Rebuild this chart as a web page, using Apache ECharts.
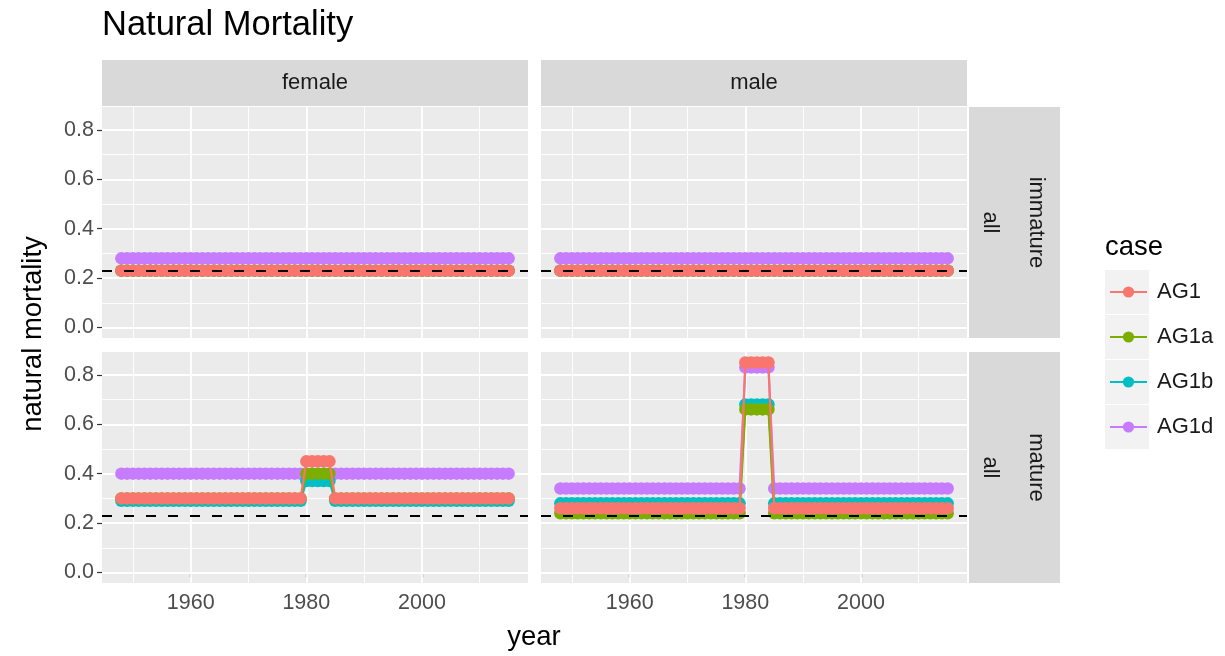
<!DOCTYPE html>
<html><head><meta charset="utf-8">
<script src="https://cdn.jsdelivr.net/npm/echarts@6/dist/echarts.min.js"></script>
<style>html,body{margin:0;padding:0;background:#fff}#c{width:1225px;height:656px}</style>
</head><body><div id="c"></div>
<script>
// ---------- data ----------
const years = [
1948,1949,1950,1951,1952,1953,1954,1955,1956,1957,
1958,1959,1960,1961,1962,1963,1964,1965,1966,1967,
1968,1969,1970,1971,1972,1973,1974,1975,1976,1977,
1978,1979,1980,1981,1982,1983,1984,1985,1986,1987,
1988,1989,1990,1991,1992,1993,1994,1995,1996,1997,
1998,1999,2000,2001,2002,2003,2004,2005,2006,2007,
2008,2009,2010,2011,2012,2013,2014,2015];
const caseNames = ['AG1','AG1a','AG1b','AG1d'];
const sexNames = ['female','male'];
const stageNames = ['immature','mature'];
const maturityNames = ['all','all'];
const xTicks = [1960,1980,2000];
const xMinor = [1950,1970,1990,2010];
const yTicks = [0,0.2,0.4,0.6,0.8];
const yMinor = [0.1,0.3,0.5,0.7];
const refValue = 0.23;

// female, immature
const fImm_AG1 = [
0.23,0.23,0.23,0.23,0.23,0.23,0.23,0.23,0.23,0.23,
0.23,0.23,0.23,0.23,0.23,0.23,0.23,0.23,0.23,0.23,
0.23,0.23,0.23,0.23,0.23,0.23,0.23,0.23,0.23,0.23,
0.23,0.23,0.23,0.23,0.23,0.23,0.23,0.23,0.23,0.23,
0.23,0.23,0.23,0.23,0.23,0.23,0.23,0.23,0.23,0.23,
0.23,0.23,0.23,0.23,0.23,0.23,0.23,0.23,0.23,0.23,
0.23,0.23,0.23,0.23,0.23,0.23,0.23,0.23];
const fImm_AG1a = [
0.23,0.23,0.23,0.23,0.23,0.23,0.23,0.23,0.23,0.23,
0.23,0.23,0.23,0.23,0.23,0.23,0.23,0.23,0.23,0.23,
0.23,0.23,0.23,0.23,0.23,0.23,0.23,0.23,0.23,0.23,
0.23,0.23,0.23,0.23,0.23,0.23,0.23,0.23,0.23,0.23,
0.23,0.23,0.23,0.23,0.23,0.23,0.23,0.23,0.23,0.23,
0.23,0.23,0.23,0.23,0.23,0.23,0.23,0.23,0.23,0.23,
0.23,0.23,0.23,0.23,0.23,0.23,0.23,0.23];
const fImm_AG1b = [
0.23,0.23,0.23,0.23,0.23,0.23,0.23,0.23,0.23,0.23,
0.23,0.23,0.23,0.23,0.23,0.23,0.23,0.23,0.23,0.23,
0.23,0.23,0.23,0.23,0.23,0.23,0.23,0.23,0.23,0.23,
0.23,0.23,0.23,0.23,0.23,0.23,0.23,0.23,0.23,0.23,
0.23,0.23,0.23,0.23,0.23,0.23,0.23,0.23,0.23,0.23,
0.23,0.23,0.23,0.23,0.23,0.23,0.23,0.23,0.23,0.23,
0.23,0.23,0.23,0.23,0.23,0.23,0.23,0.23];
const fImm_AG1d = [
0.28,0.28,0.28,0.28,0.28,0.28,0.28,0.28,0.28,0.28,
0.28,0.28,0.28,0.28,0.28,0.28,0.28,0.28,0.28,0.28,
0.28,0.28,0.28,0.28,0.28,0.28,0.28,0.28,0.28,0.28,
0.28,0.28,0.28,0.28,0.28,0.28,0.28,0.28,0.28,0.28,
0.28,0.28,0.28,0.28,0.28,0.28,0.28,0.28,0.28,0.28,
0.28,0.28,0.28,0.28,0.28,0.28,0.28,0.28,0.28,0.28,
0.28,0.28,0.28,0.28,0.28,0.28,0.28,0.28];
// male, immature
const mImm_AG1 = [
0.23,0.23,0.23,0.23,0.23,0.23,0.23,0.23,0.23,0.23,
0.23,0.23,0.23,0.23,0.23,0.23,0.23,0.23,0.23,0.23,
0.23,0.23,0.23,0.23,0.23,0.23,0.23,0.23,0.23,0.23,
0.23,0.23,0.23,0.23,0.23,0.23,0.23,0.23,0.23,0.23,
0.23,0.23,0.23,0.23,0.23,0.23,0.23,0.23,0.23,0.23,
0.23,0.23,0.23,0.23,0.23,0.23,0.23,0.23,0.23,0.23,
0.23,0.23,0.23,0.23,0.23,0.23,0.23,0.23];
const mImm_AG1a = [
0.23,0.23,0.23,0.23,0.23,0.23,0.23,0.23,0.23,0.23,
0.23,0.23,0.23,0.23,0.23,0.23,0.23,0.23,0.23,0.23,
0.23,0.23,0.23,0.23,0.23,0.23,0.23,0.23,0.23,0.23,
0.23,0.23,0.23,0.23,0.23,0.23,0.23,0.23,0.23,0.23,
0.23,0.23,0.23,0.23,0.23,0.23,0.23,0.23,0.23,0.23,
0.23,0.23,0.23,0.23,0.23,0.23,0.23,0.23,0.23,0.23,
0.23,0.23,0.23,0.23,0.23,0.23,0.23,0.23];
const mImm_AG1b = [
0.23,0.23,0.23,0.23,0.23,0.23,0.23,0.23,0.23,0.23,
0.23,0.23,0.23,0.23,0.23,0.23,0.23,0.23,0.23,0.23,
0.23,0.23,0.23,0.23,0.23,0.23,0.23,0.23,0.23,0.23,
0.23,0.23,0.23,0.23,0.23,0.23,0.23,0.23,0.23,0.23,
0.23,0.23,0.23,0.23,0.23,0.23,0.23,0.23,0.23,0.23,
0.23,0.23,0.23,0.23,0.23,0.23,0.23,0.23,0.23,0.23,
0.23,0.23,0.23,0.23,0.23,0.23,0.23,0.23];
const mImm_AG1d = [
0.28,0.28,0.28,0.28,0.28,0.28,0.28,0.28,0.28,0.28,
0.28,0.28,0.28,0.28,0.28,0.28,0.28,0.28,0.28,0.28,
0.28,0.28,0.28,0.28,0.28,0.28,0.28,0.28,0.28,0.28,
0.28,0.28,0.28,0.28,0.28,0.28,0.28,0.28,0.28,0.28,
0.28,0.28,0.28,0.28,0.28,0.28,0.28,0.28,0.28,0.28,
0.28,0.28,0.28,0.28,0.28,0.28,0.28,0.28,0.28,0.28,
0.28,0.28,0.28,0.28,0.28,0.28,0.28,0.28];
// female, mature
const fMat_AG1 = [
0.30,0.30,0.30,0.30,0.30,0.30,0.30,0.30,0.30,0.30,
0.30,0.30,0.30,0.30,0.30,0.30,0.30,0.30,0.30,0.30,
0.30,0.30,0.30,0.30,0.30,0.30,0.30,0.30,0.30,0.30,
0.30,0.30,0.45,0.45,0.45,0.45,0.45,0.30,0.30,0.30,
0.30,0.30,0.30,0.30,0.30,0.30,0.30,0.30,0.30,0.30,
0.30,0.30,0.30,0.30,0.30,0.30,0.30,0.30,0.30,0.30,
0.30,0.30,0.30,0.30,0.30,0.30,0.30,0.30];
const fMat_AG1a = [
0.30,0.30,0.30,0.30,0.30,0.30,0.30,0.30,0.30,0.30,
0.30,0.30,0.30,0.30,0.30,0.30,0.30,0.30,0.30,0.30,
0.30,0.30,0.30,0.30,0.30,0.30,0.30,0.30,0.30,0.30,
0.30,0.30,0.40,0.40,0.40,0.40,0.40,0.30,0.30,0.30,
0.30,0.30,0.30,0.30,0.30,0.30,0.30,0.30,0.30,0.30,
0.30,0.30,0.30,0.30,0.30,0.30,0.30,0.30,0.30,0.30,
0.30,0.30,0.30,0.30,0.30,0.30,0.30,0.30];
const fMat_AG1b = [
0.29,0.29,0.29,0.29,0.29,0.29,0.29,0.29,0.29,0.29,
0.29,0.29,0.29,0.29,0.29,0.29,0.29,0.29,0.29,0.29,
0.29,0.29,0.29,0.29,0.29,0.29,0.29,0.29,0.29,0.29,
0.29,0.29,0.37,0.37,0.37,0.37,0.37,0.29,0.29,0.29,
0.29,0.29,0.29,0.29,0.29,0.29,0.29,0.29,0.29,0.29,
0.29,0.29,0.29,0.29,0.29,0.29,0.29,0.29,0.29,0.29,
0.29,0.29,0.29,0.29,0.29,0.29,0.29,0.29];
const fMat_AG1d = [
0.40,0.40,0.40,0.40,0.40,0.40,0.40,0.40,0.40,0.40,
0.40,0.40,0.40,0.40,0.40,0.40,0.40,0.40,0.40,0.40,
0.40,0.40,0.40,0.40,0.40,0.40,0.40,0.40,0.40,0.40,
0.40,0.40,0.40,0.40,0.40,0.40,0.40,0.40,0.40,0.40,
0.40,0.40,0.40,0.40,0.40,0.40,0.40,0.40,0.40,0.40,
0.40,0.40,0.40,0.40,0.40,0.40,0.40,0.40,0.40,0.40,
0.40,0.40,0.40,0.40,0.40,0.40,0.40,0.40];
// male, mature
const mMat_AG1 = [
0.26,0.26,0.26,0.26,0.26,0.26,0.26,0.26,0.26,0.26,
0.26,0.26,0.26,0.26,0.26,0.26,0.26,0.26,0.26,0.26,
0.26,0.26,0.26,0.26,0.26,0.26,0.26,0.26,0.26,0.26,
0.26,0.26,0.85,0.85,0.85,0.85,0.85,0.26,0.26,0.26,
0.26,0.26,0.26,0.26,0.26,0.26,0.26,0.26,0.26,0.26,
0.26,0.26,0.26,0.26,0.26,0.26,0.26,0.26,0.26,0.26,
0.26,0.26,0.26,0.26,0.26,0.26,0.26,0.26];
const mMat_AG1a = [
0.24,0.24,0.24,0.24,0.24,0.24,0.24,0.24,0.24,0.24,
0.24,0.24,0.24,0.24,0.24,0.24,0.24,0.24,0.24,0.24,
0.24,0.24,0.24,0.24,0.24,0.24,0.24,0.24,0.24,0.24,
0.24,0.24,0.66,0.66,0.66,0.66,0.66,0.24,0.24,0.24,
0.24,0.24,0.24,0.24,0.24,0.24,0.24,0.24,0.24,0.24,
0.24,0.24,0.24,0.24,0.24,0.24,0.24,0.24,0.24,0.24,
0.24,0.24,0.24,0.24,0.24,0.24,0.24,0.24];
const mMat_AG1b = [
0.28,0.28,0.28,0.28,0.28,0.28,0.28,0.28,0.28,0.28,
0.28,0.28,0.28,0.28,0.28,0.28,0.28,0.28,0.28,0.28,
0.28,0.28,0.28,0.28,0.28,0.28,0.28,0.28,0.28,0.28,
0.28,0.28,0.68,0.68,0.68,0.68,0.68,0.28,0.28,0.28,
0.28,0.28,0.28,0.28,0.28,0.28,0.28,0.28,0.28,0.28,
0.28,0.28,0.28,0.28,0.28,0.28,0.28,0.28,0.28,0.28,
0.28,0.28,0.28,0.28,0.28,0.28,0.28,0.28];
const mMat_AG1d = [
0.34,0.34,0.34,0.34,0.34,0.34,0.34,0.34,0.34,0.34,
0.34,0.34,0.34,0.34,0.34,0.34,0.34,0.34,0.34,0.34,
0.34,0.34,0.34,0.34,0.34,0.34,0.34,0.34,0.34,0.34,
0.34,0.34,0.83,0.83,0.83,0.83,0.83,0.34,0.34,0.34,
0.34,0.34,0.34,0.34,0.34,0.34,0.34,0.34,0.34,0.34,
0.34,0.34,0.34,0.34,0.34,0.34,0.34,0.34,0.34,0.34,
0.34,0.34,0.34,0.34,0.34,0.34,0.34,0.34];

// ---------- chart ----------
const FONT = '"Liberation Sans", Arial, Helvetica, sans-serif';
const colors = {AG1:'#F8766D', AG1a:'#7CAE00', AG1b:'#00BFC4', AG1d:'#C77CFF'};
const zOf = {AG1d:2, AG1b:3, AG1a:4, AG1:5};
const drawOrder = ['AG1d','AG1b','AG1a','AG1'];
const panelData = [
  {AG1:fImm_AG1, AG1a:fImm_AG1a, AG1b:fImm_AG1b, AG1d:fImm_AG1d},
  {AG1:mImm_AG1, AG1a:mImm_AG1a, AG1b:mImm_AG1b, AG1d:mImm_AG1d},
  {AG1:fMat_AG1, AG1a:fMat_AG1a, AG1b:fMat_AG1b, AG1d:fMat_AG1d},
  {AG1:mMat_AG1, AG1a:mMat_AG1a, AG1b:mMat_AG1b, AG1d:mMat_AG1d}
];
const PW = 426, PH = 231;
const colX = [102, 541];
const rowY = [107, 352];
const XMIN = 1944.65, XMAX = 2018.35, YMIN = -0.0425, YMAX = 0.8925;

const grids = [], xAxes = [], yAxes = [], series = [];
for (let i = 0; i < 4; i++) {
  const col = i % 2, row = Math.floor(i / 2);
  grids.push({left: colX[col], top: rowY[row], width: PW, height: PH, show: true,
    backgroundColor: '#EBEBEB', borderWidth: 0, containLabel: false});
  xAxes.push({type: 'value', gridIndex: i, min: XMIN, max: XMAX,
    axisLine: {show: false}, splitLine: {show: false},
    axisTick: {show: row === 1, customValues: xTicks, length: 5, lineStyle: {color: '#333333', width: 1.2}},
    axisLabel: {show: row === 1, customValues: xTicks, fontSize: 21.5, color: '#4D4D4D', margin: 9,
      fontFamily: FONT, formatter: v => String(v)}});
  yAxes.push({type: 'value', gridIndex: i, min: YMIN, max: YMAX,
    axisLine: {show: false}, splitLine: {show: false},
    axisTick: {show: col === 0, customValues: yTicks, length: 5, lineStyle: {color: '#333333', width: 1.2}},
    axisLabel: {show: col === 0, customValues: yTicks, fontSize: 21.5, color: '#4D4D4D', margin: 8,
      fontFamily: FONT, formatter: v => v.toFixed(1)}});
  drawOrder.forEach(cn => {
    const vals = panelData[i][cn];
    const s = {
      type: 'line', name: cn, xAxisIndex: i, yAxisIndex: i, z: zOf[cn],
      data: years.map((y, k) => [y, vals[k]]),
      symbol: 'circle', symbolSize: 12.5, showSymbol: true, showAllSymbol: true,
      lineStyle: {color: colors[cn], width: 2.2}, itemStyle: {color: colors[cn], borderWidth: 0},
      emphasis: {disabled: true}, silent: true, animation: false
    };
    if (cn === 'AG1d') {
      const major = {color: '#FFFFFF', width: 1.8, type: 'solid'};
      const minor = {color: '#FFFFFF', width: 0.9, type: 'solid'};
      s.markLine = {silent: true, symbol: 'none', z: 1, animation: false, label: {show: false},
        emphasis: {disabled: true},
        data: [].concat(
          yMinor.map(v => ({yAxis: v, lineStyle: minor})),
          xMinor.map(v => ({xAxis: v, lineStyle: minor})),
          yTicks.map(v => ({yAxis: v, lineStyle: major})),
          xTicks.map(v => ({xAxis: v, lineStyle: major})))};
    }
    if (cn === 'AG1') {
      s.markLine = {silent: true, symbol: 'none', z: 10, animation: false, label: {show: false},
        emphasis: {disabled: true},
        data: [{yAxis: refValue, lineStyle: {color: '#000000', width: 2, type: [10, 12]}}]};
    }
    series.push(s);
  });
}

const txt = (x, y, text, size, opts) => Object.assign({type: 'text', x: x, y: y, silent: true, z: 20,
  style: Object.assign({text: text, fontSize: size, fontFamily: FONT, fill: '#1A1A1A',
    align: 'center', verticalAlign: 'middle', textAlign: 'center', textVerticalAlign: 'middle'}, (opts && opts.style) || {})},
  (opts && opts.el) || {});

const graphics = [];
// title
graphics.push(txt(102, 25, 'Natural Mortality', 34.5, {style: {fill: '#000000', align: 'left', textAlign: 'left'}}));
// top strips
sexNames.forEach((s, c) => {
  graphics.push({type: 'rect', silent: true, z: 0, shape: {x: colX[c], y: 60, width: PW, height: 46}, style: {fill: '#D9D9D9'}});
  graphics.push(txt(colX[c] + PW / 2, 83, s, 22));
});
// right strips
stageNames.forEach((s, r) => {
  graphics.push({type: 'rect', silent: true, z: 0, shape: {x: 969, y: rowY[r], width: 91, height: PH}, style: {fill: '#D9D9D9'}});
  graphics.push(txt(990, rowY[r] + PH / 2, maturityNames[r], 22, {el: {rotation: -Math.PI / 2}}));
  graphics.push(txt(1036, rowY[r] + PH / 2, s, 22, {el: {rotation: -Math.PI / 2}}));
});
// axis titles
graphics.push(txt(534, 637, 'year', 27.5, {style: {fill: '#000000'}}));
graphics.push(txt(33, 334, 'natural mortality', 27.5, {style: {fill: '#000000'}, el: {rotation: Math.PI / 2}}));
// legend title + key backgrounds
graphics.push(txt(1105, 247, 'case', 27.5, {style: {fill: '#000000', align: 'left', textAlign: 'left'}}));
caseNames.forEach((c, k) => {
  graphics.push({type: 'rect', silent: true, z: 0, shape: {x: 1105, y: 270 + 45 * k, width: 44, height: 44}, style: {fill: '#F2F2F2'}});
});

const chart = echarts.init(document.getElementById('c'), null, {renderer: 'canvas'});
chart.setOption({
  animation: false,
  backgroundColor: '#FFFFFF',
  grid: grids, xAxis: xAxes, yAxis: yAxes, series: series,
  legend: {data: caseNames, orient: 'vertical', left: 1109, top: 281, padding: 0,
    itemWidth: 37, itemHeight: 14, itemGap: 23, selectedMode: false, z: 30,
    textStyle: {fontSize: 22, color: '#1A1A1A', fontFamily: FONT, lineHeight: 22, padding: [0, 0, 0, 5]}},
  graphic: {elements: graphics}
});
</script></body></html>
